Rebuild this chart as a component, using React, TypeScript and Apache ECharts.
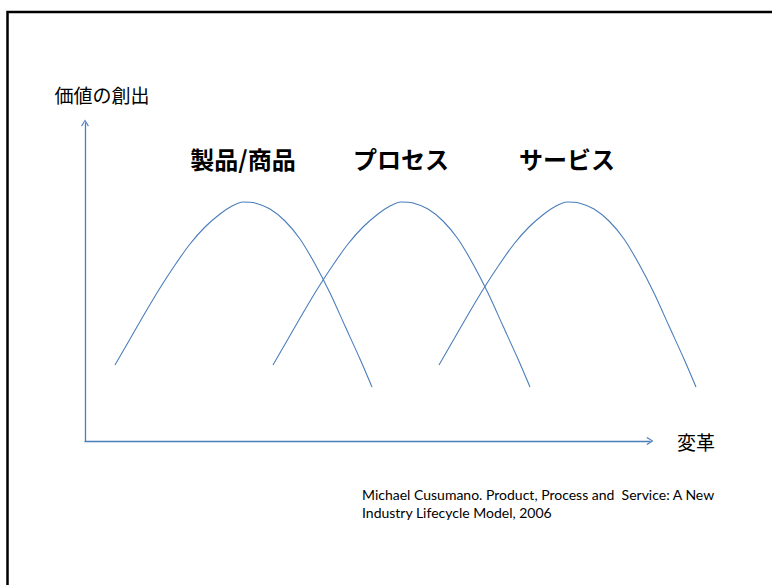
import React, { useEffect, useRef } from "react";
import * as echarts from "echarts";

// Curve titles
const seriesNames = ["製品/商品", "プロセス", "サービス"];

// Curve values (x: innovation, y: value creation)
const productX = [30, 45, 60, 75, 90, 105, 120, 135, 147, 158, 170, 185, 200, 215, 230, 245, 260, 275, 287];
const productY = [76, 102, 128, 153, 176, 197, 214, 227, 235, 239, 238, 232, 220, 202, 177, 148, 115, 82, 54];
const processX = [188, 203, 218, 233, 248, 263, 278, 293, 305, 316, 328, 343, 358, 373, 388, 403, 418, 433, 445];
const processY = [76, 102, 128, 153, 176, 197, 214, 227, 235, 239, 238, 232, 220, 202, 177, 148, 115, 82, 54];
const serviceX = [354, 369, 384, 399, 414, 429, 444, 459, 471, 482, 494, 509, 524, 539, 554, 569, 584, 599, 611];
const serviceY = [76, 102, 128, 153, 176, 197, 214, 227, 235, 239, 238, 232, 220, 202, 177, 148, 115, 82, 54];
const peakIndex = 9;

const yAxisName = "価値の創出";
const xAxisName = "変革";
const citation =
  "Michael Cusumano. Product, Process and  Service: A New\nIndustry Lifecycle Model, 2006";

const JP = "'Noto Sans CJK JP', 'Noto Sans', sans-serif";
const BLUE = "#4a7ebb";
const CHEVRON = "path://M5,0L10,8L8.8,9L5,2.4L1.2,9L0,8Z";

export default function App() {
  const ref = useRef<HTMLDivElement>(null);
  useEffect(() => {
    if (!ref.current) return;
    const chart = echarts.init(ref.current, null, { renderer: "svg" });
    const curves = [
      { name: seriesNames[0], xs: productX, ys: productY },
      { name: seriesNames[1], xs: processX, ys: processY },
      { name: seriesNames[2], xs: serviceX, ys: serviceY },
    ];
    chart.setOption({
      animation: false,
      backgroundColor: "#fff",
      grid: [
        { left: 85, right: 122, top: 123, bottom: 144 },
        { left: 85, right: 67, top: 123, bottom: 144 },
      ],
      xAxis: [
        {
          type: "value",
          gridIndex: 0,
          min: 0,
          max: 565,
          axisLine: {
            show: true,
            onZero: false,
            symbol: ["none", CHEVRON],
            symbolSize: [8, 7],
            lineStyle: { color: BLUE, width: 1.3 },
          },
          axisTick: { show: false },
          axisLabel: { show: false },
          splitLine: { show: false },
          name: xAxisName,
          nameLocation: "end",
          nameGap: 27,
          nameTextStyle: { fontSize: 19, color: "#000", fontFamily: JP },
        },
        { type: "value", gridIndex: 1, min: 0, max: 620, show: false },
      ],
      yAxis: [
        {
          type: "value",
          gridIndex: 0,
          min: 0,
          max: 318,
          axisLine: {
            show: true,
            onZero: false,
            symbol: ["none", CHEVRON],
            symbolSize: [8, 7],
            lineStyle: { color: BLUE, width: 1.3 },
          },
          axisTick: { show: false },
          axisLabel: { show: false },
          splitLine: { show: false },
          name: yAxisName,
          nameLocation: "end",
          nameGap: 19,
          nameTextStyle: {
            fontSize: 19,
            color: "#000",
            fontFamily: JP,
            padding: [0, 0, 0, 34],
          },
        },
        { type: "value", gridIndex: 1, min: 0, max: 318, show: false },
      ],
      series: curves.map((c) => ({
        type: "line",
        name: c.name,
        xAxisIndex: 1,
        yAxisIndex: 1,
        data: c.xs.map((x, i) => [x, c.ys[i]]),
        showSymbol: false,
        smooth: 0.3,
        silent: true,
        lineStyle: { color: BLUE, width: 1.1 },
        markPoint: {
          symbol: "rect",
          symbolSize: 1,
          silent: true,
          itemStyle: { color: "rgba(0,0,0,0)" },
          label: {
            show: true,
            formatter: c.name,
            offset: [0, -44],
            fontSize: 24,
            fontWeight: "bold",
            color: "#000",
            fontFamily: JP,
          },
          data: [{ coord: [c.xs[peakIndex], c.ys[peakIndex]] }],
        },
      })),
      graphic: [
        {
          type: "rect",
          shape: { x: 7.5, y: 12, width: 800, height: 620 },
          style: { fill: "none", stroke: "#000", lineWidth: 2.5 },
          silent: true,
        },
        {
          type: "text",
          x: 362,
          y: 485,
          style: {
            text: citation,
            fontSize: 14,
            lineHeight: 18,
            fontFamily: "Lato, 'Open Sans', sans-serif",
            fill: "#000",
          },
          silent: true,
        },
      ],
    });
    return () => chart.dispose();
  }, []);
  return (
    <div
      ref={ref}
      style={{ position: "fixed", left: 0, top: 0, width: 772, height: 585 }}
    />
  );
}
